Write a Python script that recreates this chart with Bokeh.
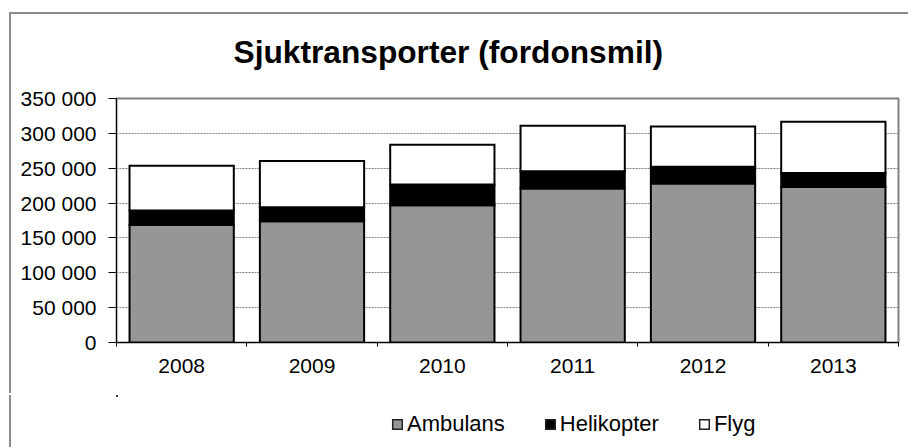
from bokeh.plotting import figure
from bokeh.layouts import column
from bokeh.models import FixedTicker, Legend, LegendItem, ColumnDataSource, Title
from bokeh.embed import file_html
from bokeh.resources import INLINE

# ---- data ----
years = ["2008", "2009", "2010", "2011", "2012", "2013"]
ambulans = [169000, 174000, 197000, 221000, 228000, 223000]
helikopter = [20500, 20000, 29500, 24500, 24000, 20000]
flyg = [64000, 66500, 57000, 65500, 58000, 73500]
series_names = ["Ambulans", "Helikopter", "Flyg"]
series_colors = ["#969696", "#000000", "#ffffff"]
y_ticks = [0, 50000, 100000, 150000, 200000, 250000, 300000, 350000]
y_tick_labels = ["0", "50 000", "100 000", "150 000", "200 000", "250 000", "300 000", "350 000"]
title_text = "Sjuktransporter (fordonsmil)"

FONT = "Liberation Sans"
BORDER = "#8c8c8c"

centers = [i + 0.5 for i in range(len(years))]
bounds = [float(i) for i in range(len(years) + 1)]
source = ColumnDataSource(dict(x=centers, Ambulans=ambulans, Helikopter=helikopter, Flyg=flyg))

p = figure(width=899, height=381, x_range=(0, len(years)), y_range=(0, y_ticks[-1]),
           output_backend="svg", toolbar_location=None,
           min_border_left=105, min_border_right=12, min_border_top=83, min_border_bottom=53)
p.margin = (14, 0, 0, 11)
p.styles = {"box-shadow": f"-2px -2px 0 0 {BORDER}"}
p.background_fill_color = "white"
p.border_fill_color = "white"
p.outline_line_color = "#808080"
p.outline_line_width = 2

renderers = p.vbar_stack(series_names, x="x", width=0.8, source=source,
                         fill_color=series_colors, line_color="black", line_width=2,
                         line_join="miter")

# title (outermost) + thin spacer panel between title and plot area
p.title.text = title_text
p.title.align = "left"
p.title.offset = 117
p.title.standoff = 34
p.title.text_font = FONT
p.title.text_font_size = "31.7px"
p.title.text_font_style = "bold"
p.title.text_color = "black"
p.add_layout(Title(text=" ", text_font_size="1px", standoff=9), "above")

# y axis
p.yaxis.ticker = FixedTicker(ticks=y_ticks)
p.yaxis.major_label_overrides = dict(zip(y_ticks, y_tick_labels))
p.yaxis.major_tick_out = 8
p.yaxis.major_tick_in = 0
p.yaxis.minor_tick_line_color = None
p.yaxis.major_label_standoff = 12
p.yaxis.axis_line_color = "black"
p.yaxis.major_tick_line_color = "black"
p.yaxis.major_label_text_font = FONT
p.yaxis.major_label_text_font_size = "21px"
p.yaxis.major_label_text_color = "black"

# x axis: ticks at boundaries (minor), labels at centers
p.xaxis.ticker = FixedTicker(ticks=centers, minor_ticks=bounds)
p.xaxis.major_label_overrides = dict(zip(centers, years))
p.xaxis.major_tick_out = 0
p.xaxis.major_tick_in = 0
p.xaxis.major_tick_line_color = None
p.xaxis.minor_tick_out = 4
p.xaxis.minor_tick_in = 0
p.xaxis.minor_tick_line_color = "black"
p.xaxis.major_label_standoff = 12
p.xaxis.axis_line_color = "black"
p.xaxis.major_label_text_font = FONT
p.xaxis.major_label_text_font_size = "21px"
p.xaxis.major_label_text_color = "black"

# grid
p.xgrid.visible = False
p.ygrid.ticker = FixedTicker(ticks=y_ticks)
p.ygrid.grid_line_color = "#808080"
p.ygrid.grid_line_dash = "2 1"
p.ygrid.grid_line_width = 1

# legend strip (separate figure below the chart area, same chart box);
# both ranges lie beyond the data, so the stacked bars drawn here stay out of
# view and only provide the legend keys
lg = figure(width=899, height=52, x_range=(len(years) + 1, 2 * len(years) + 1),
            y_range=(-2, -1),
            output_backend="svg", toolbar_location=None,
            x_axis_location=None, y_axis_location=None, min_border=0)
lg.margin = (0, 0, 0, 11)
lg.styles = {"box-shadow": f"-2px 0 0 0 {BORDER}"}
lg.outline_line_color = None
lg.xgrid.visible = False
lg.ygrid.visible = False
lg.background_fill_color = "white"
lg.border_fill_color = "white"
key_renderers = lg.vbar_stack(series_names, x="x", width=0.8, source=source,
                              fill_color=series_colors, line_color="#222222", line_width=1.5,
                              line_join="miter", line_cap="butt")

legend = Legend(items=[LegendItem(label=n, renderers=[r]) for n, r in zip(series_names, key_renderers)],
                orientation="horizontal", location=(275, 10))
legend.glyph_width = 12
legend.glyph_height = 12
legend.label_standoff = 4
legend.spacing = 39
legend.padding = 0
legend.margin = 0
legend.label_height = 24
legend.border_line_color = None
legend.background_fill_alpha = 0
legend.label_text_font = FONT
legend.label_text_font_size = "22px"
legend.label_text_color = "black"
lg.add_layout(legend, "center")

layout = column(p, lg, spacing=0)
open("out.html", "w").write(file_html(layout, INLINE))
